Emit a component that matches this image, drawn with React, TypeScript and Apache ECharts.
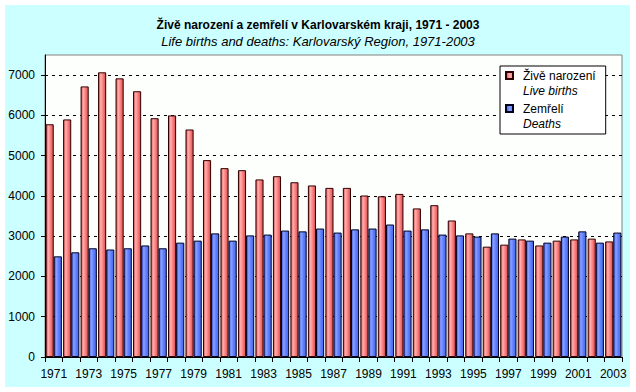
import React, { useEffect, useRef } from "react";
import * as echarts from "echarts";

const years = [
  "1971", "1972", "1973", "1974", "1975", "1976", "1977", "1978", "1979", "1980",
  "1981", "1982", "1983", "1984", "1985", "1986", "1987", "1988", "1989", "1990",
  "1991", "1992", "1993", "1994", "1995", "1996", "1997", "1998", "1999", "2000",
  "2001", "2002", "2003",
];

const births = [
  5780, 5900, 6720, 7070, 6920, 6600, 5930, 6000, 5650, 4890,
  4690, 4640, 4410, 4490, 4340, 4260, 4200, 4200, 4010, 3990,
  4050, 3690, 3770, 3390, 3070, 2740, 2790, 2920, 2770, 2890,
  2920, 2940, 2870,
];

const deaths = [
  2500, 2600, 2700, 2670, 2700, 2770, 2700, 2840, 2890, 3070,
  2890, 3020, 3040, 3140, 3120, 3190, 3090, 3170, 3190, 3290,
  3140, 3170, 3040, 3020, 2990, 3070, 2940, 2890, 2840, 2990,
  3120, 2840, 3090,
];

const yTicks = [0, 1000, 2000, 3000, 4000, 5000, 6000, 7000];

const seriesNames = ["Živě narození", "Zemřelí"];
const seriesNamesEn = ["Live births", "Deaths"];

const titleText = "Živě narození a zemřelí v Karlovarském kraji, 1971 - 2003";
const subtitleText = "Life births and deaths: Karlovarský Region, 1971-2003";

const FONT = "'Liberation Sans', Arial, sans-serif";

export default function App() {
  const ref = useRef<HTMLDivElement>(null);

  useEffect(() => {
    if (!ref.current) return;
    const chart = echarts.init(ref.current, null, { renderer: "svg" });

    const redGrad = new echarts.graphic.LinearGradient(0, 0, 1, 0, [
      { offset: 0, color: "#c84848" },
      { offset: 0.3, color: "#ffb0b0" },
      { offset: 0.6, color: "#ff8080" },
      { offset: 1, color: "#d05050" },
    ]);
    const blueGrad = new echarts.graphic.LinearGradient(0, 0, 1, 0, [
      { offset: 0, color: "#3a58d8" },
      { offset: 0.3, color: "#8aa0ff" },
      { offset: 0.6, color: "#6080ff" },
      { offset: 1, color: "#4866e8" },
    ]);

    const icon = "path://M0,4H7V11H0Z M0,0 M12,30";

    chart.setOption({
      animation: false,
      backgroundColor: "transparent",
      textStyle: { fontFamily: FONT },
      title: [
        {
          text: titleText,
          left: "center",
          top: 19,
          padding: 0,
          textStyle: { fontFamily: FONT, fontSize: 12, fontWeight: "bold", color: "#000" },
        },
        {
          text: subtitleText,
          left: "center",
          top: 35,
          padding: 0,
          textStyle: { fontFamily: FONT, fontSize: 13, fontStyle: "italic", fontWeight: "normal", color: "#000" },
        },
      ],
      legend: {
        orient: "vertical",
        left: 500,
        top: 66,
        padding: [1, 10, 2, 5],
        itemGap: 1,
        itemWidth: 12,
        itemHeight: 30,
        icon,
        backgroundColor: "#ffffff",
        borderColor: "#000000",
        borderWidth: 1,
        borderRadius: 0,
        data: seriesNames,
        formatter: (name: string) => {
          const i = seriesNames.indexOf(name);
          return `{a|${name}}\n{b|${seriesNamesEn[i]}}`;
        },
        textStyle: {
          fontFamily: FONT,
          color: "#000",
          padding: [0, 0, 0, 0],
          rich: {
            a: { fontFamily: FONT, fontSize: 12, lineHeight: 15, color: "#000" },
            b: { fontFamily: FONT, fontSize: 12, lineHeight: 15, fontStyle: "italic", color: "#000" },
          },
        },
      },
      grid: {
        left: 45,
        right: 14,
        top: 55,
        bottom: 35,
        show: true,
        backgroundColor: "#fcfffc",
        borderColor: "#808080",
        borderWidth: 1,
      },
      xAxis: {
        type: "category",
        data: years,
        boundaryGap: true,
        axisLine: { show: true, lineStyle: { color: "#000", width: 1 } },
        axisTick: { show: true, interval: 0, length: 5, lineStyle: { color: "#000" } },
        axisLabel: {
          interval: 1,
          margin: 11,
          fontFamily: FONT,
          fontSize: 12,
          color: "#000",
        },
        splitLine: { show: false },
      },
      yAxis: {
        type: "value",
        min: 0,
        max: 7500,
        interval: 1000,
        axisLine: { show: true, lineStyle: { color: "#000", width: 1 } },
        axisTick: { show: true, length: 4, customValues: yTicks, lineStyle: { color: "#000" } },
        axisLabel: {
          customValues: yTicks,
          margin: 10,
          fontFamily: FONT,
          fontSize: 12,
          color: "#000",
          formatter: (v: number) => String(v),
        },
        splitLine: {
          show: true,
          showMinLine: false,
          lineStyle: { color: "#000", type: [3, 4], width: 1 },
        },
      },
      series: [
        {
          name: seriesNames[0],
          type: "bar",
          data: births,
          barGap: "0%",
          barCategoryGap: "7%",
          itemStyle: { color: redGrad, borderColor: "#300000", borderWidth: 1 },
        },
        {
          name: seriesNames[1],
          type: "bar",
          data: deaths,
          barGap: "0%",
          barCategoryGap: "7%",
          itemStyle: { color: blueGrad, borderColor: "#000020", borderWidth: 1 },
        },
      ],
    });

    return () => chart.dispose();
  }, []);

  return (
    <div style={{ position: "fixed", left: 0, top: 0, width: 636, height: 392, background: "#ffffff" }}>
      <div style={{ position: "absolute", left: 5, top: 5, width: 625, height: 382, background: "#ccffff" }} />
      <div ref={ref} style={{ position: "absolute", left: 0, top: 0, width: 636, height: 392 }} />
    </div>
  );
}
